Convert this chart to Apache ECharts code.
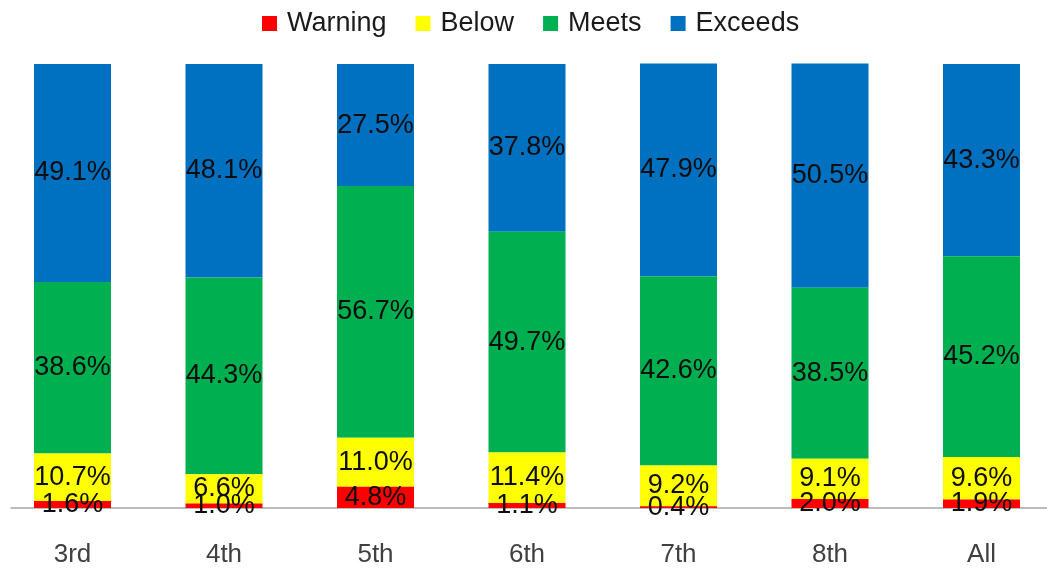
<!DOCTYPE html>
<html>
<head>
<meta charset="utf-8">
<script src="https://cdn.jsdelivr.net/npm/echarts@6/dist/echarts.min.js"></script>
<style>html,body{margin:0;padding:0;background:#fff;}#c{width:1047px;height:571px;}</style>
</head>
<body>
<div id="c"></div>
<script>
const categories = ['3rd', '4th', '5th', '6th', '7th', '8th', 'All'];
const warning = [1.6, 1.0, 4.8, 1.1, 0.4, 2.0, 1.9];
const below = [10.7, 6.6, 11.0, 11.4, 9.2, 9.1, 9.6];
const meets = [38.6, 44.3, 56.7, 49.7, 42.6, 38.5, 45.2];
const exceeds = [49.1, 48.1, 27.5, 37.8, 47.9, 50.5, 43.3];

const seriesNames = ['Warning', 'Below', 'Meets', 'Exceeds'];
const seriesData = [warning, below, meets, exceeds];
const colors = ['#FF0000', '#FFFF00', '#00B050', '#0070C0'];

const labelFont = '"Liberation Sans Narrow", "Liberation Sans", Arial, sans-serif';
const textFont = '"Liberation Sans", Arial, sans-serif';

const chart = echarts.init(document.getElementById('c'), null, {renderer: 'canvas'});
chart.setOption({
  animation: false,
  backgroundColor: '#ffffff',
  legend: {
    top: 5,
    left: 257,
    itemWidth: 15,
    itemHeight: 15,
    itemGap: 29,
    icon: 'rect',
    textStyle: {fontFamily: textFont, fontSize: 27, color: '#1a1a1a', padding: [0, 0, 0, 5]},
    data: seriesNames
  },
  grid: [
    {left: -3.25, right: -10.25, top: 64, bottom: 63, outerBoundsMode: 'none'},
    {left: 11, right: 0, top: 64, bottom: 63, outerBoundsMode: 'none'}
  ],
  xAxis: [
    {
      type: 'category', gridIndex: 0, data: categories,
      axisLine: {show: false}, axisTick: {show: false},
      axisLabel: {fontFamily: textFont, fontSize: 26, color: '#404040', margin: 34}
    },
    {
      type: 'value', gridIndex: 1, min: 0, max: 1,
      axisLine: {show: true, onZero: false, lineStyle: {color: '#a6a6a6', width: 1.5}},
      axisTick: {show: false}, axisLabel: {show: false}, splitLine: {show: false}
    }
  ],
  yAxis: [
    {type: 'value', gridIndex: 0, min: 0, max: 100, show: false, splitLine: {show: false}},
    {type: 'value', gridIndex: 1, min: 0, max: 1, show: false, splitLine: {show: false}}
  ],
  series: seriesNames.map((name, i) => ({
    name: name,
    type: 'bar',
    stack: 'total',
    xAxisIndex: 0,
    yAxisIndex: 0,
    barWidth: 77,
    clip: false,
    itemStyle: {color: colors[i]},
    z: 2 + (3 - i),
    label: {
      show: true,
      position: 'inside',
      fontFamily: labelFont,
      fontSize: 27,
      color: '#0d0d0d',
      formatter: p => p.value.toFixed(1) + '%'
    },
    data: seriesData[i]
  }))
});
</script>
</body>
</html>
